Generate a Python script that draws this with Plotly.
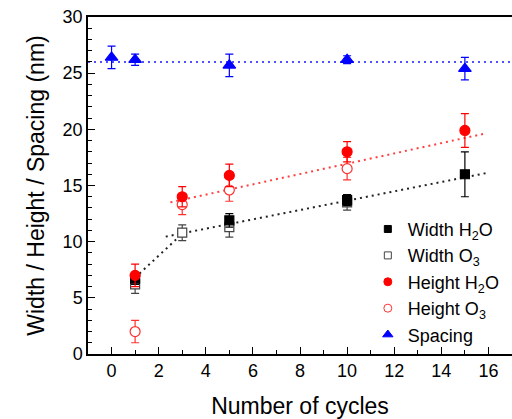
import plotly.graph_objects as go

# Measured feature sizes (nm) versus number of deposition cycles
width_h2o_cycles = [1, 5, 10, 15]
width_h2o = [6.7, 11.9, 13.7, 16.0]
width_h2o_err = [0.5, 0.6, 0.5, 2.0]

o3_cycles = [1, 3, 5, 10]
width_o3 = [6.2, 10.8, 11.3, 13.5]
width_o3_err = [0.8, 0.7, 0.9, 0.7]
height_o3 = [2.0, 13.3, 14.6, 16.5]
height_o3_err = [1.0, 0.9, 1.0, 1.0]

height_h2o_cycles = [1, 3, 5, 10, 15]
height_h2o = [7.0, 14.0, 15.9, 18.0, 19.9]
height_h2o_err = [1.0, 0.9, 1.0, 0.9, 1.5]

spacing_cycles = [0, 1, 5, 10, 15]
spacing = [26.4, 26.2, 25.7, 26.2, 25.4]
spacing_err = [1.0, 0.5, 1.0, 0.35, 1.0]

# Guide lines (dotted)
width_guide1_x = [1.0, 3.0]
width_guide1_y = [6.8, 10.7]
width_guide2_x = [2.3, 15.9]
width_guide2_y = [10.45, 16.1]
height_guide_x = [2.5, 15.8]
height_guide_y = [13.5, 19.6]
spacing_guide_x = [-1, 17]
spacing_guide_y = [26.0, 26.0]

FONT = "Liberation Sans, Arial, sans-serif"

fig = go.Figure()

def guide(x, y, color):
    fig.add_trace(go.Scatter(x=x, y=y, mode="lines", showlegend=False,
                             line=dict(color=color, width=2, dash="2px,4px"),
                             hoverinfo="skip"))

guide(width_guide1_x, width_guide1_y, "#222222")
guide(width_guide2_x, width_guide2_y, "#222222")
guide(height_guide_x, height_guide_y, "#ff4040")
guide(spacing_guide_x, spacing_guide_y, "#5050ff")

# name, symbol, edge colour, fill colour, marker size
styles = {
    "width_h2o": ("Width H<sub>2</sub>O", "square", "#000000", "#000000", 9),
    "width_o3": ("Width O<sub>3</sub>", "square", "#444444", "white", 9),
    "height_h2o": ("Height H<sub>2</sub>O", "circle", "#ff0000", "#ff0000", 10),
    "height_o3": ("Height O<sub>3</sub>", "circle", "#ff3030", "white", 10),
    "spacing": ("Spacing", "triangle-up", "#0000ff", "#0000ff", 11),
}

def series(x, y, err, key):
    name, symbol, edge, fill, size = styles[key]
    fig.add_trace(go.Scatter(
        x=x, y=y, mode="markers", name=name, showlegend=False,
        marker=dict(symbol=symbol, size=size, color=fill,
                    line=dict(color=edge, width=1.2)),
        error_y=dict(type="data", array=err, visible=True, color=edge,
                     thickness=1.2, width=4),
    ))

series(o3_cycles, width_o3, width_o3_err, "width_o3")
series(width_h2o_cycles, width_h2o, width_h2o_err, "width_h2o")
series(o3_cycles, height_o3, height_o3_err, "height_o3")
series(height_h2o_cycles, height_h2o, height_h2o_err, "height_h2o")
series(spacing_cycles, spacing, spacing_err, "spacing")

# Legend entries with compact symbols
for key in ["width_h2o", "width_o3", "height_h2o", "height_o3", "spacing"]:
    name, symbol, edge, fill, size = styles[key]
    fig.add_trace(go.Scatter(
        x=[None], y=[None], mode="markers", name=name, showlegend=True,
        marker=dict(symbol=symbol, size=size - 2, color=fill,
                    line=dict(color=edge, width=1)),
    ))

fig.update_layout(
    width=512, height=419,
    margin=dict(l=88, r=0, t=17, b=65),
    paper_bgcolor="white", plot_bgcolor="white",
    font=dict(family=FONT, color="black", size=18),
    showlegend=True,
    legend=dict(x=0.66, y=0.425, xanchor="left", yanchor="top",
                bgcolor="rgba(0,0,0,0)", font=dict(size=18),
                traceorder="normal", itemwidth=30),
    xaxis=dict(
        range=[-1, 17], tickvals=[0, 2, 4, 6, 8, 10, 12, 14, 16],
        ticks="inside", ticklen=7, tickwidth=1, tickcolor="black",
        minor=dict(dtick=1, tick0=0, ticks="inside", ticklen=4, tickcolor="black"),
        showline=True, linecolor="black", linewidth=1.5, mirror=True,
        showgrid=False, zeroline=False,
        tickfont=dict(size=18),
        title=dict(text="Number of cycles", font=dict(size=23), standoff=18),
    ),
    yaxis=dict(
        range=[0, 30], tickvals=[0, 5, 10, 15, 20, 25, 30],
        ticks="inside", ticklen=7, tickwidth=1, tickcolor="black",
        minor=dict(dtick=1, tick0=0, ticks="inside", ticklen=4, tickcolor="black"),
        showline=True, linecolor="black", linewidth=1.5,
        showgrid=False, zeroline=False,
        tickfont=dict(size=18),
        title=dict(text="Width / Height / Spacing (nm)", font=dict(size=23), standoff=12),
    ),
)

fig.write_html("out.html")
